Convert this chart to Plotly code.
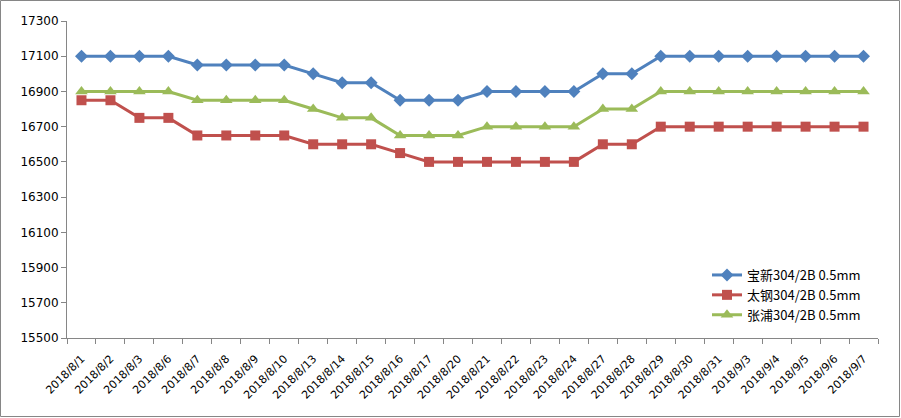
import plotly.graph_objects as go

dates = ["2018/8/1", "2018/8/2", "2018/8/3", "2018/8/6", "2018/8/7", "2018/8/8", "2018/8/9",
         "2018/8/10", "2018/8/13", "2018/8/14", "2018/8/15", "2018/8/16", "2018/8/17",
         "2018/8/20", "2018/8/21", "2018/8/22", "2018/8/23", "2018/8/24", "2018/8/27",
         "2018/8/28", "2018/8/29", "2018/8/30", "2018/8/31", "2018/9/3", "2018/9/4",
         "2018/9/5", "2018/9/6", "2018/9/7"]

baoxin = [17100, 17100, 17100, 17100, 17050, 17050, 17050, 17050, 17000, 16950, 16950,
          16850, 16850, 16850, 16900, 16900, 16900, 16900, 17000, 17000, 17100, 17100,
          17100, 17100, 17100, 17100, 17100, 17100]
taigang = [16850, 16850, 16750, 16750, 16650, 16650, 16650, 16650, 16600, 16600, 16600,
           16550, 16500, 16500, 16500, 16500, 16500, 16500, 16600, 16600, 16700, 16700,
           16700, 16700, 16700, 16700, 16700, 16700]
zhangpu = [16900, 16900, 16900, 16900, 16850, 16850, 16850, 16850, 16800, 16750, 16750,
           16650, 16650, 16650, 16700, 16700, 16700, 16700, 16800, 16800, 16900, 16900,
           16900, 16900, 16900, 16900, 16900, 16900]

names = ["宝新304/2B 0.5mm", "太钢304/2B 0.5mm", "张浦304/2B 0.5mm"]
y_ticks = list(range(15500, 17301, 200))

fig = go.Figure()
fig.add_trace(go.Scatter(x=dates, y=baoxin, name=names[0], mode="lines+markers",
                         line=dict(color="#4F81BD", width=3),
                         marker=dict(symbol="diamond", size=10, color="#4F81BD")))
fig.add_trace(go.Scatter(x=dates, y=taigang, name=names[1], mode="lines+markers",
                         line=dict(color="#C0504D", width=3),
                         marker=dict(symbol="square", size=10, color="#C0504D")))
fig.add_trace(go.Scatter(x=dates, y=zhangpu, name=names[2], mode="lines+markers",
                         line=dict(color="#9BBB59", width=3),
                         marker=dict(symbol="triangle-up", size=11, color="#9BBB59")))

L, R, T, B = 67, 23, 21, 80
W, H = 901, 418
pw, ph = W - L - R, H - T - B

fig.update_layout(
    width=W, height=H,
    margin=dict(l=L, r=R, t=T, b=B),
    paper_bgcolor="white", plot_bgcolor="white",
    font=dict(family="DejaVu Sans, Liberation Sans, sans-serif", size=11, color="#000000"),
    showlegend=True,
    legend=dict(x=(707 - L) / pw, y=(338 - 260) / ph, xanchor="left", yanchor="top",
                bgcolor="rgba(0,0,0,0)", tracegroupgap=0,
                font=dict(family="Noto Sans CJK SC, Liberation Sans, sans-serif", size=13),
                itemwidth=30),
    xaxis=dict(type="category", range=[-0.5, len(dates) - 0.5], tickangle=-45,
               tickson="boundaries", ticks="outside",
               ticklen=5, tickcolor="#868686", showline=True, linecolor="#868686",
               linewidth=1, showgrid=False, zeroline=False, automargin=False,
               ticklabelstandoff=9, tickfont=dict(size=11)),
    yaxis=dict(range=[15500, 17300], tickvals=y_ticks, ticktext=[str(v) for v in y_ticks],
               ticks="outside", ticklen=5, automargin=False,
               tickcolor="#868686", showline=True, linecolor="#868686", linewidth=1,
               showgrid=False, zeroline=False, tickfont=dict(size=12)),
    shapes=[dict(type="rect", xref="paper", yref="paper",
                 x0=(0.5 - L) / pw, x1=(W - 1.5 - L) / pw,
                 y0=(H - B - (H - 1.5)) / ph, y1=(H - B - 0.5) / ph,
                 line=dict(color="#868686", width=1), fillcolor="rgba(0,0,0,0)")],
)

fig.write_html("out.html", config={"displayModeBar": False},
               post_script="document.body.style.margin='0';")
